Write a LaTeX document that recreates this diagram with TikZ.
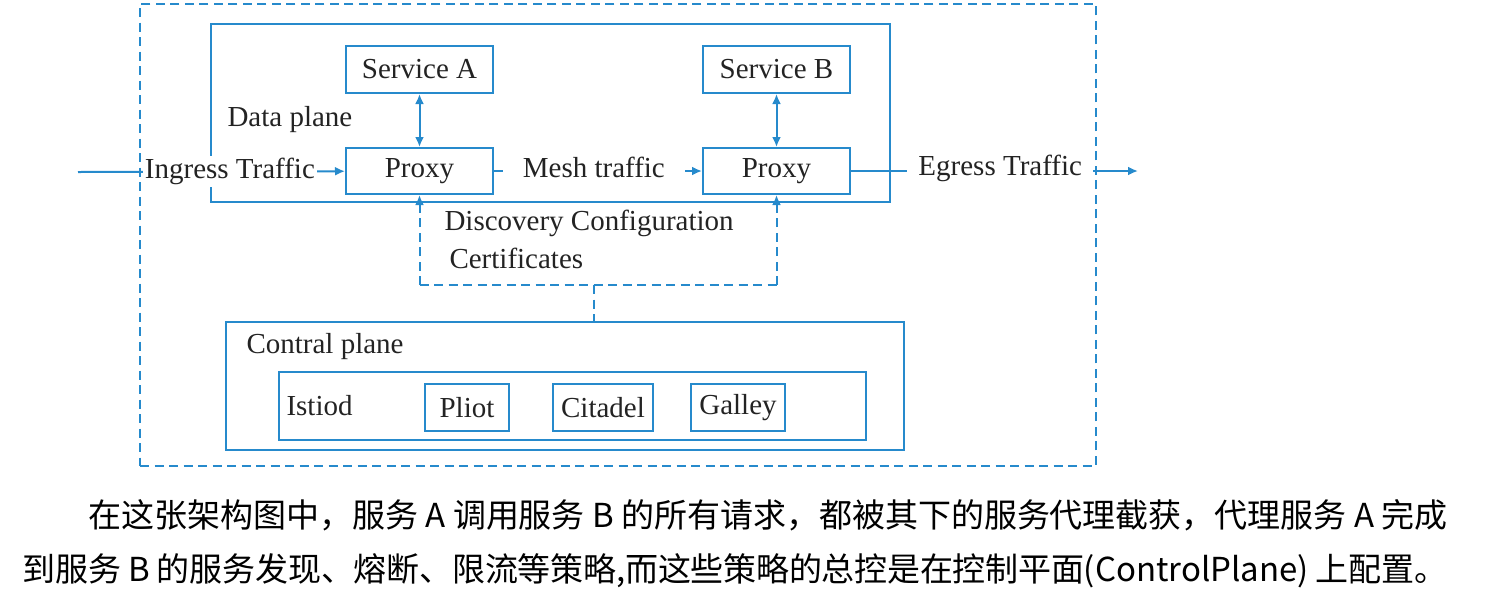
\documentclass[tikz,border=0pt]{standalone}
\usepackage{fontspec}
\setmainfont{Liberation Serif}
\newfontfamily\cjk{Noto Sans CJK SC}
\usetikzlibrary{arrows.meta}
\definecolor{meshblue}{RGB}{38,138,204}
\definecolor{inkgray}{RGB}{35,35,35}
\tikzset{x=0.4pt, y=-0.4pt,
  every node/.append style={font=\fontsize{11.6}{14}\selectfont, text=inkgray},
  box/.style={draw=meshblue, line width=0.8pt, inner sep=0pt},
  dashpat/.style={dash pattern=on 3.6pt off 2.2pt},
  dashbox/.style={box, dashpat},
  flow/.style={draw=meshblue, line width=0.8pt},
  tip/.style={-{Latex[length=4pt,width=3.6pt]}},
  twotip/.style={{Latex[length=4pt,width=3.6pt]}-{Latex[length=4pt,width=3.6pt]}},
  gap/.style={fill=white, inner ysep=1pt}
}

\begin{document}
\begin{tikzpicture}
\useasboundingbox (0,0) rectangle (1488,615);
% data plane
\node[box, minimum width=679*0.4pt, minimum height=178*0.4pt] (data) at (550.5,113) {};
\node[anchor=west, inner sep=0pt] (datalbl) at (227,120) {Data plane};
\foreach \s/\cx in {A/419.5, B/776.5}{
  \node[box, minimum width=147*0.4pt, minimum height=47*0.4pt] (svc\s) at (\cx,69.5) {Service \s};
  \node[box, fill=white, minimum width=147*0.4pt, minimum height=46*0.4pt] (proxy\s) at (\cx,171) {Proxy};
  \draw[flow, twotip] (svc\s) -- (proxy\s);
}

% traffic
\coordinate (inStart) at (78,172);
\coordinate (egEnd) at (1138,171);
\draw[flow, tip] (inStart) -- node[gap, pos=0.569, inner xsep=0.7pt] (ingress) {Ingress Traffic} (proxyA);
\draw[flow, tip] (proxyA) -- node[gap, pos=0.48, inner xsep=8pt, yshift=1.5pt] (meshlbl) {Mesh traffic} (proxyB);
\draw[flow, tip] (proxyB) -- node[gap, pos=0.52, inner xsep=4.4pt, yshift=1pt] (egress) {Egress Traffic} (egEnd);

% discovery
\coordinate (discL) at (419.5,285);
\coordinate (discR) at (776.5,285);
\coordinate (discM) at (594,285);
\draw[flow, dashpat] (discL) -- (discR);
\draw[flow, dashpat, tip] (discL) -- (proxyA);
\draw[flow, dashpat, tip] (discR) -- (proxyB);
\node[anchor=west, inner sep=0pt] (disclbl) at (444,223) {Discovery Configuration};
\node[anchor=west, inner sep=0pt] (certlbl) at (449,258) {Certificates};

% control plane
\node[box, minimum width=678*0.4pt, minimum height=128*0.4pt] (ctrl) at (565,386) {};
\draw[flow, dashpat] (discM) -- (discM |- ctrl.north);
\node[anchor=west, inner sep=0pt] (ctrllbl) at (246,347) {Contral plane};
\node[box, minimum width=587*0.4pt, minimum height=68*0.4pt] (istiod) at (572.5,406) {};
\node[anchor=west, inner sep=0pt] (istiodlbl) at (286,406) {Istiod};
\foreach \nm/\cx/\w in {Pliot/467/84, Citadel/603/100, Galley/738/94}
  \node[box, minimum width=\w*0.4pt, minimum height=47*0.4pt] (\nm) at (\cx,407.5) {\nm};

% outer mesh boundary
\node[dashbox, minimum width=956*0.4pt, minimum height=462*0.4pt] (mesh) at (618,235) {};

% caption
\node[anchor=north west, inner sep=0pt, text width=570pt, align=justify, text=black,
  font=\cjk\fontsize{13.2}{21.6}\selectfont] (caption) at (22,499)
  {\XeTeXlinebreaklocale "zh"\XeTeXlinebreakskip=0pt plus 2pt minus 0.9pt%
   \hspace*{2em}在这张架构图中，服务 A 调用服务 B 的所有请求，都被其下的服务代理截获，代理服务 A 完成\linebreak
   到服务 B 的服务发现、熔断、限流等策略,而这些策略的总控是在控制平面(ControlPlane) 上配置。};
\end{tikzpicture}
\end{document}
